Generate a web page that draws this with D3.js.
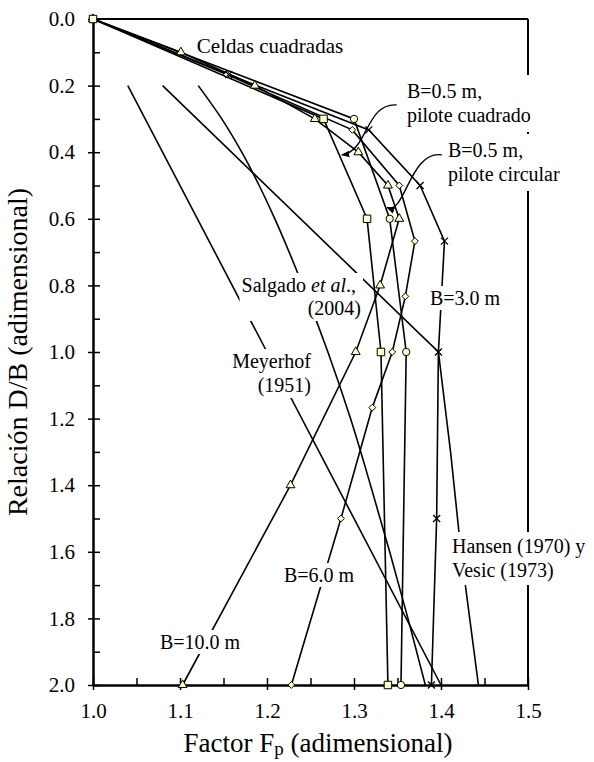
<!DOCTYPE html>
<html><head><meta charset="utf-8">
<script src="https://cdn.jsdelivr.net/npm/d3@7"></script>
<style>
body{margin:0;background:#fff}
svg text{font-family:"Liberation Serif","Times New Roman",Tinos,"Nimbus Roman","DejaVu Serif",serif;fill:#000}
</style>
</head><body>
<svg id="c" width="594" height="762"></svg>
<script>
// ---- data ----
const xTickValues = [1.0, 1.1, 1.2, 1.3, 1.4, 1.5];
const xMinorValues = [1.05, 1.15, 1.25, 1.35, 1.45];
const yTickValues = [0, 0.2, 0.4, 0.6, 0.8, 1.0, 1.2, 1.4, 1.6, 1.8, 2.0];
const yMinorValues = [0.1, 0.3, 0.5, 0.7, 0.9, 1.1, 1.3, 1.5, 1.7, 1.9];

// B=0.5 m square pile
const sqDB = [0, 0.3, 0.6, 1.0, 2.0];
const sqFp = [1.0, 1.265, 1.315, 1.331, 1.339];
// B=0.5 m circular pile
const ciDB = [0, 0.3, 0.6, 1.0, 2.0];
const ciFp = [1.0, 1.300, 1.341, 1.360, 1.354];
// B=3.0 m
const b3DB = [0, 0.167, 0.333, 0.5, 0.667, 1.0, 1.5, 2.0];
const b3Fp = [1.0, 1.156, 1.317, 1.376, 1.404, 1.397, 1.395, 1.389];
// B=6.0 m
const b6DB = [0, 0.167, 0.333, 0.5, 0.667, 0.833, 1.0, 1.167, 1.5, 2.0];
const b6Fp = [1.0, 1.154, 1.298, 1.352, 1.370, 1.359, 1.344, 1.321, 1.285, 1.228];
// B=10.0 m
const b10DB = [0, 0.1, 0.2, 0.3, 0.4, 0.5, 0.6, 0.8, 1.0, 1.4, 2.0];
const b10Fp = [1.0, 1.101, 1.186, 1.255, 1.305, 1.339, 1.352, 1.330, 1.302, 1.227, 1.103];
// theoretical curves
const meyDB = [0.2, 2.0];
const meyFp = [1.04, 1.40];
const hanDB = [0.2, 1.0, 1.3, 1.6, 1.8, 2.0];
const hanFp = [1.08, 1.397, 1.411, 1.423, 1.433, 1.443];
const salDB = [0.2, 0.3, 0.4, 0.5, 0.6, 0.8, 1.0, 1.2, 1.4, 1.6, 1.8, 2.0];
const salFp = [1.121, 1.148, 1.171, 1.191, 1.209, 1.241, 1.270, 1.296, 1.319, 1.341, 1.362, 1.382];

const FONT = '"Liberation Serif","Times New Roman",Tinos,"Nimbus Roman","DejaVu Serif",serif';
const svg = d3.select("#c");
const x = d3.scaleLinear().domain([1.0, 1.5]).range([93, 528]);
const y = d3.scaleLinear().domain([0, 2.0]).range([19, 685]);
const FILL = "#ffffcc";

// frame (top & right)
svg.append("line").attr("x1", x(1.0)).attr("x2", x(1.5)).attr("y1", y(0)).attr("y2", y(0))
  .attr("stroke", "#000").attr("stroke-width", 2);
svg.append("line").attr("x1", x(1.5)).attr("x2", x(1.5)).attr("y1", y(0)).attr("y2", y(2))
  .attr("stroke", "#000").attr("stroke-width", 2);

// axes
const fmt = d3.format(".1f");
const gy = svg.append("g").attr("transform", `translate(${x(1.0)},0)`)
  .call(d3.axisLeft(y).tickValues(yTickValues).tickFormat(fmt).tickSizeInner(5).tickSizeOuter(0).tickPadding(13));
const gyIn = svg.append("g").attr("transform", `translate(${x(1.0)},0)`)
  .call(d3.axisRight(y).tickValues(yTickValues.concat(yMinorValues)).tickFormat("").tickSize(7).tickSizeOuter(0));
const gx = svg.append("g").attr("transform", `translate(0,${y(2.0)})`)
  .call(d3.axisBottom(x).tickValues(xTickValues).tickFormat(fmt).tickSizeInner(5).tickSizeOuter(0).tickPadding(13));
const gxIn = svg.append("g").attr("transform", `translate(0,${y(2.0)})`)
  .call(d3.axisTop(x).tickValues(xTickValues.concat(xMinorValues)).tickFormat("").tickSize(7).tickSizeOuter(0));
[gy, gyIn, gx, gxIn].forEach(g => {
  g.attr("font-family", null);
  g.selectAll(".domain").attr("stroke-width", 2);
  g.selectAll(".tick line").attr("stroke-width", 1.5);
  g.selectAll("text").style("font-family", FONT).style("font-size", "21px").attr("fill", "#000");
});

// axis titles
svg.append("text").attr("transform", `translate(27,${(y(0) + y(2)) / 2}) rotate(-90)`)
  .attr("text-anchor", "middle").style("font-size", "28px").text("Relación D/B (adimensional)");
const xt = svg.append("text").attr("x", 318).attr("y", 752)
  .attr("text-anchor", "middle").style("font-size", "27px");
xt.append("tspan").text("Factor F");
xt.append("tspan").style("font-size", "19px").attr("dy", 3).text("p");
xt.append("tspan").attr("dy", -3).text(" (adimensional)");

// lines
const zip = (a, b) => a.map((v, i) => [v, b[i]]);
const series = [
  { Fp: meyFp, DB: meyDB, sym: null },
  { Fp: hanFp, DB: hanDB, sym: null },
  { Fp: salFp, DB: salDB, sym: null, curve: true },
  { Fp: b10Fp, DB: b10DB, sym: "tri" },
  { Fp: b6Fp, DB: b6DB, sym: "dia" },
  { Fp: b3Fp, DB: b3DB, sym: "x" },
  { Fp: ciFp, DB: ciDB, sym: "cir" },
  { Fp: sqFp, DB: sqDB, sym: "sq" }
];
series.forEach(s => {
  const l = d3.line().curve(s.curve ? d3.curveMonotoneY : d3.curveLinear).x(d => x(d[0])).y(d => y(d[1]));
  svg.append("path").datum(zip(s.Fp, s.DB)).attr("d", l)
    .attr("fill", "none").attr("stroke", "#000").attr("stroke-width", 1.6);
});
// markers
const symMap = {
  tri: d3.symbol().type(d3.symbolTriangle).size(34),
  dia: d3.symbol().type(d3.symbolDiamond2 || d3.symbolDiamond).size(30),
  cir: d3.symbol().type(d3.symbolCircle).size(42),
  sq: d3.symbol().type(d3.symbolSquare).size(56),
  x: d3.symbol().type(d3.symbolTimes || d3.symbolCross).size(34)
};
series.filter(s => s.sym).forEach(s => {
  svg.append("g").selectAll("path").data(zip(s.Fp, s.DB)).join("path")
    .attr("transform", d => `translate(${x(d[0])},${y(d[1])})`)
    .attr("d", symMap[s.sym])
    .attr("fill", s.sym === "x" ? "none" : FILL)
    .attr("stroke", "#000").attr("stroke-width", s.sym === "x" ? 1.3 : 1);
});

// curved annotation arrows (anchors in data units)
const defs = svg.append("defs");
defs.append("marker").attr("id", "ah").attr("viewBox", "0 0 10 10").attr("refX", 9).attr("refY", 5)
  .attr("markerWidth", 6).attr("markerHeight", 6).attr("orient", "auto")
  .append("path").attr("d", "M0,1 L10,5 L0,9 z").attr("fill", "#000");
const arrows = [
  [[1.349, 0.258], [1.313, 0.252], [1.316, 0.399], [1.286, 0.408]],
  [[1.401, 0.408], [1.364, 0.393], [1.359, 0.589], [1.338, 0.566]]
];
arrows.forEach(a => {
  const p = d3.path();
  p.moveTo(x(a[0][0]), y(a[0][1]));
  p.bezierCurveTo(x(a[1][0]), y(a[1][1]), x(a[2][0]), y(a[2][1]), x(a[3][0]), y(a[3][1]));
  svg.append("path").attr("d", p.toString()).attr("fill", "none").attr("stroke", "#000")
    .attr("stroke-width", 1.4).attr("marker-end", "url(#ah)");
});

// labels with white background
function label(lines, px, py, anchor, lh, pad, fs, noBg) {
  pad = pad || 1;
  const g = svg.append("g");
  const bg = g.append("rect").attr("fill", "#fff");
  const t = g.append("text").attr("text-anchor", anchor).style("font-size", (fs || 20) + "px");
  lines.forEach((ln, i) => {
    const ts = t.append("tspan").attr("x", px).attr("y", py + i * lh);
    if (Array.isArray(ln)) ln.forEach(part => ts.append("tspan").style("font-style", part.i ? "italic" : null).text(part.t));
    else ts.text(ln);
  });
  if (noBg) { bg.remove(); return; }
  const bb = t.node().getBBox();
  bg.attr("x", bb.x - 2).attr("y", bb.y - pad).attr("width", bb.width + 4).attr("height", bb.height + 2 * pad);
}
label(["Celdas cuadradas"], 270, 53, "middle", 22, 1, 21, true);
label(["B=0.5 m,", "pilote cuadrado"], 407, 98, "start", 24, 5);
label(["B=0.5 m,", "pilote circular"], 448, 157, "start", 24, 5);
label(["B=3.0 m"], 430, 305, "start", 22);
label([[{ t: "Salgado " }, { t: "et al", i: true }, { t: "., " }], "(2004)"], 361, 292, "end", 23);
label(["Meyerhof", "(1951)"], 311, 368, "end", 24);
label(["Hansen (1970) y", "Vesic (1973)"], 452, 553, "start", 24, 3);
label(["B=6.0 m"], 319, 582, "middle", 22);
label(["B=10.0 m"], 200, 649, "middle", 22);
</script>
</body></html>
